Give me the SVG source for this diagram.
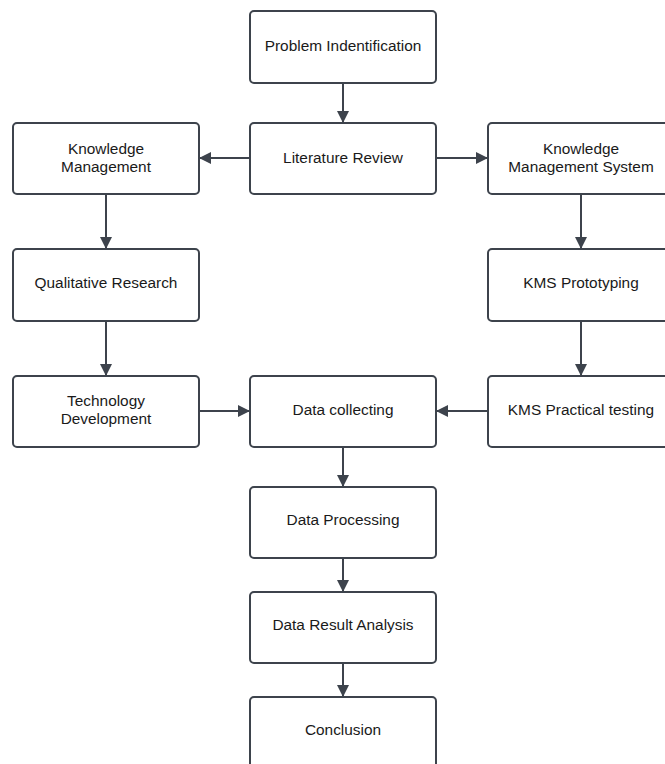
<svg xmlns="http://www.w3.org/2000/svg" width="665" height="764" viewBox="0 0 665 764">
<defs>
<style>
.box{fill:#ffffff;stroke:#3d434c;stroke-width:2}
.t{font-family:"Liberation Sans",Arial,sans-serif;font-size:15.4px;fill:#1a1a1a;text-anchor:middle}
.c{fill:none;stroke:#3d434c;stroke-width:2}
</style>
<marker id="ah" viewBox="0 0 12 12" refX="11" refY="6" markerWidth="12" markerHeight="12" markerUnits="userSpaceOnUse" orient="auto">
<path d="M0,0 L12,6 L0,12 Z" fill="#3d434c"/>
</marker>
</defs>
<rect width="665" height="764" fill="#ffffff"/>
<g id="connectors">
<line class="c" x1="343" y1="83" x2="343" y2="122" marker-end="url(#ah)"/>
<line class="c" x1="250" y1="158" x2="200" y2="158" marker-end="url(#ah)"/>
<line class="c" x1="436" y1="158" x2="487" y2="158" marker-end="url(#ah)"/>
<line class="c" x1="106" y1="194" x2="106" y2="248" marker-end="url(#ah)"/>
<line class="c" x1="581" y1="194" x2="581" y2="248" marker-end="url(#ah)"/>
<line class="c" x1="106" y1="321" x2="106" y2="375" marker-end="url(#ah)"/>
<line class="c" x1="581" y1="321" x2="581" y2="375" marker-end="url(#ah)"/>
<line class="c" x1="199" y1="411" x2="249" y2="411" marker-end="url(#ah)"/>
<line class="c" x1="488" y1="411" x2="437" y2="411" marker-end="url(#ah)"/>
<line class="c" x1="343" y1="447" x2="343" y2="486" marker-end="url(#ah)"/>
<line class="c" x1="343" y1="558" x2="343" y2="591" marker-end="url(#ah)"/>
<line class="c" x1="343" y1="663" x2="343" y2="696" marker-end="url(#ah)"/>
</g>
<g id="problem"><rect class="box" x="250" y="11" width="186" height="72" rx="4"/><text class="t" x="343" y="51">Problem Indentification</text></g>
<g id="literature"><rect class="box" x="250" y="123" width="186" height="71" rx="4"/><text class="t" x="343" y="163">Literature Review</text></g>
<g id="km"><rect class="box" x="13" y="123" width="186" height="71" rx="4"/><text class="t" x="106" y="154">Knowledge</text><text class="t" x="106" y="172">Management</text></g>
<g id="kms"><rect class="box" x="488" y="123" width="186" height="71" rx="4"/><text class="t" x="581" y="154">Knowledge</text><text class="t" x="581" y="172">Management System</text></g>
<g id="qualitative"><rect class="box" x="13" y="249" width="186" height="72" rx="4"/><text class="t" x="106" y="288">Qualitative Research</text></g>
<g id="prototyping"><rect class="box" x="488" y="249" width="186" height="72" rx="4"/><text class="t" x="581" y="288">KMS Prototyping</text></g>
<g id="techdev"><rect class="box" x="13" y="376" width="186" height="71" rx="4"/><text class="t" x="106" y="406">Technology</text><text class="t" x="106" y="424">Development</text></g>
<g id="datacollecting"><rect class="box" x="250" y="376" width="186" height="71" rx="4"/><text class="t" x="343" y="415">Data collecting</text></g>
<g id="practical"><rect class="box" x="488" y="376" width="186" height="71" rx="4"/><text class="t" x="581" y="415">KMS Practical testing</text></g>
<g id="processing"><rect class="box" x="250" y="487" width="186" height="71" rx="4"/><text class="t" x="343" y="525">Data Processing</text></g>
<g id="analysis"><rect class="box" x="250" y="592" width="186" height="71" rx="4"/><text class="t" x="343" y="630">Data Result Analysis</text></g>
<g id="conclusion"><rect class="box" x="250" y="697" width="186" height="72" rx="4"/><text class="t" x="343" y="735">Conclusion</text></g>
</svg>
